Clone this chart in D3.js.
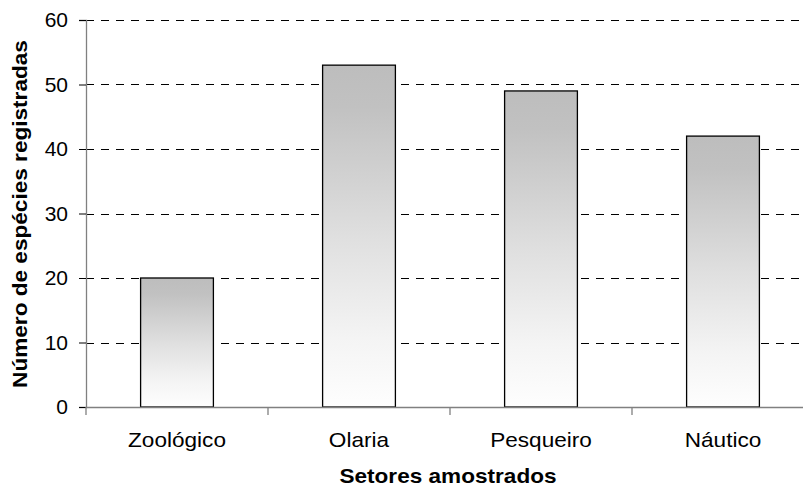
<!DOCTYPE html>
<html>
<head>
<meta charset="utf-8">
<script src="https://cdn.jsdelivr.net/npm/d3@7"></script>
<style>
  body { margin: 0; background: #fff; }
  svg { display: block; font-family: "Liberation Sans", Arial, sans-serif; }
</style>
</head>
<body>
<svg id="chart" width="803" height="489"></svg>
<script>
// data
const setores = ["Zoológico", "Olaria", "Pesqueiro", "Náutico"];
const especies = [20, 53, 49, 42];
const yTicks = [0, 10, 20, 30, 40, 50, 60];

const plot = { left: 86, right: 814, top: 20, bottom: 407 };

const svg = d3.select("#chart");

const x = d3.scaleBand()
    .domain(setores)
    .range([plot.left, plot.right])
    .paddingInner(0.6)
    .paddingOuter(0.3);

const y = d3.scaleLinear()
    .domain([0, 60])
    .range([plot.bottom, plot.top]);

// gradient for bars
const grad = svg.append("defs").append("linearGradient")
    .attr("id", "barGrad")
    .attr("x1", 0).attr("y1", 0).attr("x2", 0).attr("y2", 1);
[[0, "#bdbdbd"], [0.12, "#c1c1c1"], [0.5, "#dfdfdf"], [0.8, "#f4f4f4"], [1, "#fefefe"]]
    .forEach(s => grad.append("stop").attr("offset", s[0]).attr("stop-color", s[1]));

// gridlines
svg.append("g")
    .selectAll("line")
    .data(yTicks.filter(d => d > 0))
    .enter()
    .append("line")
    .attr("x1", plot.left)
    .attr("x2", plot.right)
    .attr("y1", d => Math.round(y(d)) + 0.5)
    .attr("y2", d => Math.round(y(d)) + 0.5)
    .attr("stroke", "#000")
    .attr("stroke-width", 1)
    .attr("stroke-dasharray", "8,7");

// bars
svg.append("g")
    .selectAll("rect")
    .data(setores)
    .enter()
    .append("rect")
    .attr("x", d => x(d))
    .attr("y", (d, i) => y(especies[i]))
    .attr("width", x.bandwidth())
    .attr("height", (d, i) => y(0) - y(especies[i]))
    .attr("fill", "url(#barGrad)")
    .attr("stroke", "#000")
    .attr("stroke-width", 1.3);

// y axis
const yAxis = svg.append("g")
    .attr("transform", `translate(${plot.left},0)`)
    .call(d3.axisLeft(y).tickValues(yTicks).tickSize(7).tickPadding(11));
yAxis.select(".domain").attr("stroke", "#808080").attr("stroke-width", 1.3);
yAxis.selectAll(".tick line").attr("stroke", "#000");
yAxis.selectAll("text")
    .style("font-size", "21px")
    .attr("fill", "#000");

// x axis
const xAxis = svg.append("g")
    .attr("transform", `translate(0,${plot.bottom})`)
    .call(d3.axisBottom(x).tickSize(0).tickSizeOuter(0));
xAxis.select(".domain").attr("stroke", "#808080").attr("stroke-width", 1.3);
xAxis.selectAll("text")
    .attr("y", 40)
    .attr("dy", 0)
    .attr("transform", "scale(1.13,1)")
    .style("font-size", "20px")
    .attr("fill", "#000");

// category boundary ticks
svg.append("g")
    .selectAll("line")
    .data(d3.range(setores.length + 1))
    .enter()
    .append("line")
    .attr("x1", i => plot.left + i * x.step())
    .attr("x2", i => plot.left + i * x.step())
    .attr("y1", plot.bottom)
    .attr("y2", plot.bottom + 8)
    .attr("stroke", "#808080")
    .attr("stroke-width", 1.3);

// axis titles
svg.append("text")
    .attr("transform", `translate(448,483) scale(1.13,1)`)
    .attr("text-anchor", "middle")
    .style("font-size", "20px")
    .style("font-weight", "bold")
    .text("Setores amostrados");

svg.append("text")
    .attr("transform", `translate(27,214) rotate(-90) scale(1.13,1)`)
    .attr("text-anchor", "middle")
    .style("font-size", "20px")
    .style("font-weight", "bold")
    .text("Número de espécies registradas");
</script>
</body>
</html>
